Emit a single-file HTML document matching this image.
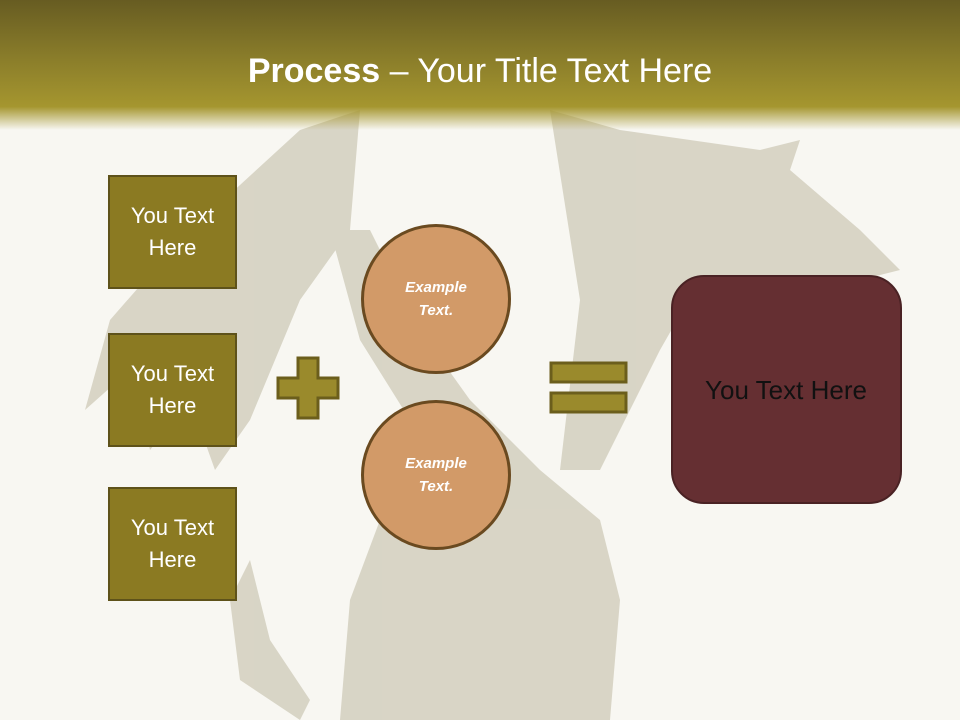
<!DOCTYPE html>
<html><head><style>
body{margin:0}
#s{position:relative;width:960px;height:720px;background:#f8f7f2;overflow:hidden;font-family:"Liberation Sans",sans-serif}
.hd{position:absolute;left:0;top:0;width:960px;height:130px;background:linear-gradient(#675c22 0%,#8a7d2a 45%,#a5962f 82%,rgba(248,247,242,0) 100%)}
.t{position:absolute;top:52px;width:960px;text-align:center;color:#fff;font-size:34px}
.b{position:absolute;left:108px;width:125px;height:110px;background:#8b7a22;border:2px solid #5e521a;color:#fff;font-size:22px;display:flex;align-items:center;justify-content:center;text-align:center;line-height:32px}
.c{position:absolute;left:361px;width:144px;height:144px;border-radius:50%;background:#d29a68;border:3px solid #6a4a20;color:#fff;font-style:italic;font-weight:bold;font-size:15px;display:flex;align-items:center;justify-content:center;text-align:center;line-height:23px}
</style></head><body><div id="s">
<svg width="960" height="720" style="position:absolute;left:0;top:0">
<g fill="#aaa385" opacity="0.4">
<path d="M360 110 L300 130 L180 240 L110 320 L85 410 L130 370 L150 450 L190 400 L215 470 L250 420 L300 300 L350 230 Z"/>
<path d="M550 110 L620 130 L760 150 L800 140 L790 170 L860 230 L900 270 L860 280 L780 300 L700 280 L660 350 L620 430 L600 470 L560 470 L580 300 Z"/>
<path d="M330 230 L370 230 L420 330 L470 400 L540 470 L600 520 L620 600 L610 720 L340 720 L350 600 L380 520 L410 420 L360 340 Z"/>
<path d="M300 720 L240 680 L230 600 L250 560 L270 640 L310 700 Z"/>
</g>
</svg>
<div class="hd"></div>
<div class="t"><b>Process</b> – Your Title Text Here</div>
<div class="b" style="top:175px">You Text<br>Here</div>
<div class="b" style="top:333px">You Text<br>Here</div>
<div class="b" style="top:487px">You Text<br>Here</div>
<svg width="960" height="720" style="position:absolute;left:0;top:0">
<path d="M298 358 H318 V378 H338 V398 H318 V418 H298 V398 H278 V378 H298 Z" fill="#9a8a2c" stroke="#6b5e1c" stroke-width="3"/>
<rect x="551" y="363" width="75" height="19" fill="#9a8a2c" stroke="#6b5e1c" stroke-width="3"/>
<rect x="551" y="393" width="75" height="19" fill="#9a8a2c" stroke="#6b5e1c" stroke-width="3"/>
<rect x="672" y="276" width="229" height="227" rx="32" fill="#652f32" stroke="#4a2224" stroke-width="2"/>
<text x="786" y="399" text-anchor="middle" font-family="Liberation Sans" font-size="26" fill="#111">You Text Here</text>
</svg>
<div class="c" style="top:224px">Example<br>Text.</div>
<div class="c" style="top:400px">Example<br>Text.</div>
</div></body></html>
